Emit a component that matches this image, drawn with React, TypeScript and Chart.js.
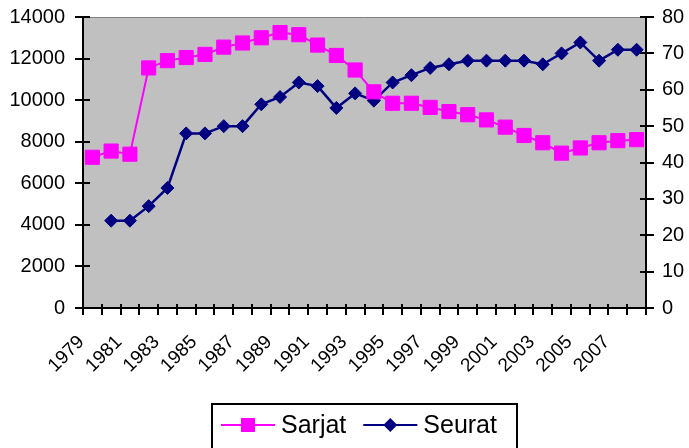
import React, { useEffect, useRef } from 'react';
import { Chart, registerables } from 'chart.js';

Chart.register(...registerables);

const years = [
  '1979', '1980', '1981', '1982', '1983', '1984', '1985', '1986', '1987', '1988',
  '1989', '1990', '1991', '1992', '1993', '1994', '1995', '1996', '1997', '1998',
  '1999', '2000', '2001', '2002', '2003', '2004', '2005', '2006', '2007', '2008',
];

const sarjat = [
  7250, 7550, 7400, 11550, 11900, 12050, 12200, 12550, 12750, 13000,
  13250, 13150, 12650, 12150, 11450, 10400, 9850, 9850, 9650, 9450,
  9300, 9050, 8700, 8300, 7950, 7450, 7700, 7950, 8050, 8100,
];

const seurat = [
  null, 24, 24, 28, 33, 48, 48, 50, 50, 56,
  58, 62, 61, 55, 59, 57, 62, 64, 66, 67,
  68, 68, 68, 68, 67, 70, 73, 68, 71, 71,
];

const leftMax = 14000;
const leftStep = 2000;
const rightMax = 80;
const rightStep = 10;

const FONT = "'Liberation Sans', Arial, Helvetica, sans-serif";

const plotPlugin = {
  id: 'plotDecor',
  beforeDraw(chart: any) {
    const { ctx, chartArea: a } = chart;
    ctx.save();
    ctx.fillStyle = '#C0C0C0';
    ctx.fillRect(a.left, a.top, a.right - a.left, a.bottom - a.top);
    ctx.strokeStyle = '#808080';
    ctx.lineWidth = 1;
    ctx.beginPath();
    ctx.moveTo(a.left, a.top + 0.5);
    ctx.lineTo(a.right, a.top + 0.5);
    ctx.stroke();
    ctx.restore();
  },
  beforeDatasetsDraw(chart: any) {
    const { ctx, chartArea: a, scales } = chart;
    ctx.save();
    ctx.strokeStyle = '#000';
    ctx.lineWidth = 2;
    ctx.beginPath();
    const xs = scales.x;
    for (let i = 0; i <= xs.getLabels().length; i++) {
      const px = Math.round(xs.getPixelForValue(i - 0.5));
      ctx.moveTo(px, a.bottom);
      ctx.lineTo(px, a.bottom - 4);
    }
    const yl = scales.y;
    yl.ticks.forEach((t: any) => {
      const py = Math.round(yl.getPixelForValue(t.value));
      ctx.moveTo(a.left, py);
      ctx.lineTo(a.left + 7, py);
    });
    const yr = scales.y1;
    yr.ticks.forEach((t: any) => {
      const py = Math.round(yr.getPixelForValue(t.value));
      ctx.moveTo(a.right, py);
      ctx.lineTo(a.right - 6, py);
    });
    ctx.stroke();
    ctx.restore();
  },
};

const legendPlugin = {
  id: 'boxLegend',
  afterDraw(chart: any) {
    const { ctx } = chart;
    const boxLeft = 212;
    const boxTop = 404;
    const boxW = 305;
    const boxH = 60;
    const cy = 425;
    ctx.save();
    ctx.fillStyle = '#fff';
    ctx.fillRect(boxLeft, boxTop, boxW, boxH);
    ctx.strokeStyle = '#000';
    ctx.lineWidth = 2;
    ctx.strokeRect(boxLeft, boxTop, boxW, boxH);
    ctx.font = `25px ${FONT}`;
    ctx.textBaseline = 'middle';
    ctx.textAlign = 'left';
    let x = boxLeft + 9;
    chart.data.datasets.forEach((ds: any) => {
      const lineLen = 54;
      ctx.strokeStyle = ds.borderColor;
      ctx.lineWidth = 2;
      ctx.beginPath();
      ctx.moveTo(x, cy);
      ctx.lineTo(x + lineLen, cy);
      ctx.stroke();
      const mx = x + lineLen / 2;
      ctx.fillStyle = ds.borderColor;
      ctx.beginPath();
      if (ds.pointStyle === 'rect') {
        ctx.rect(mx - 7, cy - 7, 14, 14);
      } else {
        ctx.moveTo(mx - 7, cy);
        ctx.lineTo(mx, cy - 7);
        ctx.lineTo(mx + 7, cy);
        ctx.lineTo(mx, cy + 7);
        ctx.closePath();
      }
      ctx.fill();
      ctx.fillStyle = '#000';
      const tx = x + lineLen + 6;
      ctx.fillText(ds.label, tx, cy + 1);
      x = tx + ctx.measureText(ds.label).width + 17;
    });
    ctx.restore();
  },
};

const plainNumber = (v: any) => String(v);

export default function App() {
  const canvasRef = useRef<HTMLCanvasElement | null>(null);

  useEffect(() => {
    if (!canvasRef.current) return;
    const chart = new Chart(canvasRef.current, {
      type: 'line',
      data: {
        labels: years,
        datasets: [
          {
            label: 'Sarjat',
            data: sarjat,
            yAxisID: 'y',
            borderColor: '#FF00FF',
            backgroundColor: '#FF00FF',
            borderWidth: 2,
            pointStyle: 'rect',
            pointRadius: 10,
            pointBorderWidth: 1,
            pointBorderColor: '#FF00FF',
            pointBackgroundColor: '#FF00FF',
            tension: 0,
          },
          {
            label: 'Seurat',
            data: seurat,
            yAxisID: 'y1',
            borderColor: '#000080',
            backgroundColor: '#000080',
            borderWidth: 2.5,
            pointStyle: 'rectRot',
            pointRadius: 6.5,
            pointBorderWidth: 1,
            pointBorderColor: '#000080',
            pointBackgroundColor: '#000080',
            tension: 0,
            spanGaps: false,
          },
        ],
      },
      options: {
        responsive: false,
        maintainAspectRatio: false,
        animation: false,
        layout: { padding: { top: 17, left: 0, right: 0, bottom: 0 } },
        plugins: {
          legend: { display: false },
          tooltip: { enabled: false },
        },
        scales: {
          x: {
            type: 'category',
            offset: true,
            grid: {
              offset: true,
              drawOnChartArea: false,
              drawTicks: true,
              tickLength: 7,
              lineWidth: 2,
              color: '#000',
            },
            border: { display: true, color: '#000', width: 2 },
            ticks: {
              autoSkip: false,
              minRotation: 45,
              maxRotation: 45,
              padding: 16,
              labelOffset: -11,
              color: '#000',
              font: { family: FONT, size: 19 },
              callback: function (this: any, val: any, index: number) {
                return index % 2 === 0 ? this.getLabelForValue(val) : '';
              },
            },
            afterFit: (scale: any) => {
              scale.height = 140;
              scale.paddingLeft = 0;
              scale.paddingRight = 0;
            },
          },
          y: {
            type: 'linear',
            position: 'left',
            min: 0,
            max: leftMax,
            grid: {
              drawOnChartArea: false,
              tickLength: 8,
              lineWidth: 2,
              color: '#000',
            },
            border: { display: true, color: '#000', width: 2 },
            ticks: {
              stepSize: leftStep,
              padding: 10,
              color: '#000',
              font: { family: FONT, size: 20 },
              callback: plainNumber,
            },
            afterFit: (scale: any) => {
              scale.width = 83;
              scale.paddingTop = 0;
              scale.paddingBottom = 0;
            },
          },
          y1: {
            type: 'linear',
            position: 'right',
            min: 0,
            max: rightMax,
            grid: {
              drawOnChartArea: false,
              tickLength: 8,
              lineWidth: 2,
              color: '#000',
            },
            border: { display: true, color: '#000', width: 2 },
            ticks: {
              stepSize: rightStep,
              padding: 8,
              color: '#000',
              font: { family: FONT, size: 20 },
              callback: plainNumber,
            },
            afterFit: (scale: any) => {
              scale.width = 43;
              scale.paddingTop = 0;
              scale.paddingBottom = 0;
            },
          },
        },
      },
      plugins: [plotPlugin, legendPlugin],
    });
    return () => chart.destroy();
  }, []);

  return (
    <div style={{ position: 'absolute', left: 0, top: 0, width: 689, height: 448, background: '#fff' }}>
      <canvas ref={canvasRef} width={689} height={448} style={{ display: 'block' }} />
    </div>
  );
}
